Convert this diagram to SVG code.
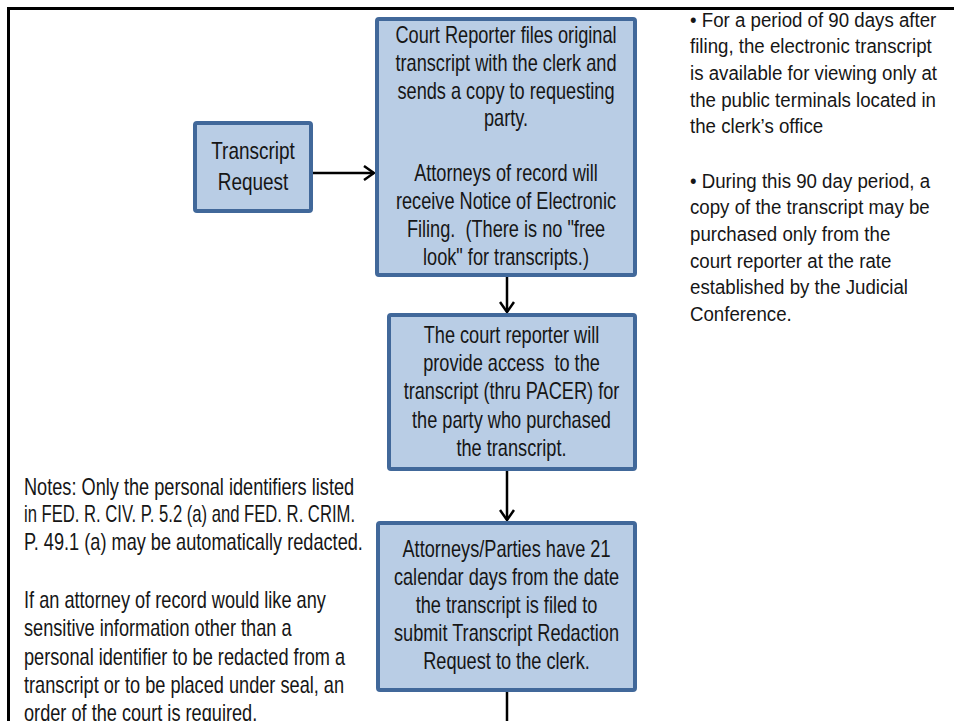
<svg xmlns="http://www.w3.org/2000/svg" width="954" height="721" viewBox="0 0 954 721">
<defs>
<style>
.box{fill:#b9cde5;stroke:#41689a;stroke-width:4}
.t{font-family:"Liberation Sans",Arial,sans-serif;font-size:23px;fill:#161616}
.tr{font-family:"Liberation Sans",Arial,sans-serif;font-size:24px;fill:#161616}
.r{font-family:"Liberation Sans",Arial,sans-serif;font-size:21px;fill:#161616}
.c{text-anchor:middle}
.conn{stroke:#000;stroke-width:2.5;fill:none}
.pre{white-space:pre}
</style>
<marker id="arr" viewBox="0 0 12 16" refX="11" refY="8" markerWidth="12" markerHeight="16" markerUnits="userSpaceOnUse" orient="auto">
<path d="M1,1 L11,8 L1,15" fill="none" stroke="#000" stroke-width="2.5"/>
</marker>
</defs>
<rect width="954" height="721" fill="#fff"/>
<rect x="8.5" y="8.5" width="980" height="760" fill="none" stroke="#000" stroke-width="3"/>

<g id="connectors">
<line class="conn" x1="313" y1="173" x2="374" y2="173" marker-end="url(#arr)"/>
<line class="conn" x1="507" y1="277" x2="507" y2="312" marker-end="url(#arr)"/>
<line class="conn" x1="507" y1="471" x2="507" y2="520" marker-end="url(#arr)"/>
<line class="conn" x1="507" y1="692" x2="507" y2="735" marker-end="url(#arr)"/>
</g>

<g id="node-request">
<rect class="box" x="195" y="123" width="116" height="88" rx="2"/>
<g transform="translate(253,0) scale(0.79,1)">
<text class="tr c" x="0" y="159">Transcript</text>
<text class="tr c" x="0" y="190">Request</text>
</g>
</g>

<g id="node-files">
<rect class="box" x="377" y="19" width="258" height="256" rx="2"/>
<g transform="translate(506,0) scale(0.79,1)">
<text class="t c" x="0" y="43">Court Reporter files original</text>
<text class="t c" x="0" y="71">transcript with the clerk and</text>
<text class="t c" x="0" y="99">sends a copy to requesting</text>
<text class="t c" x="0" y="126">party.</text>
<text class="t c" x="0" y="181">Attorneys of record will</text>
<text class="t c" x="0" y="209">receive Notice of Electronic</text>
<text class="t c pre" x="0" y="237">Filing.  (There is no "free</text>
<text class="t c" x="0" y="265">look" for transcripts.)</text>
</g>
</g>

<g id="node-access">
<rect class="box" x="389" y="315" width="246" height="154" rx="2"/>
<g transform="translate(511.5,0) scale(0.79,1)">
<text class="t c" x="0" y="343">The court reporter will</text>
<text class="t c pre" x="0" y="371">provide access  to the</text>
<text class="t c" x="0" y="399.5">transcript (thru PACER) for</text>
<text class="t c" x="0" y="428">the party who purchased</text>
<text class="t c" x="0" y="456">the transcript.</text>
</g>
</g>

<g id="node-redaction">
<rect class="box" x="378" y="523" width="257" height="167" rx="2"/>
<g transform="translate(506.5,0) scale(0.79,1)">
<text class="t c" x="0" y="557">Attorneys/Parties have 21</text>
<text class="t c" x="0" y="585">calendar days from the date</text>
<text class="t c" x="0" y="613">the transcript is filed to</text>
<text class="t c" x="0" y="641">submit Transcript Redaction</text>
<text class="t c" x="0" y="669">Request to the clerk.</text>
</g>
</g>

<g id="note-right">
<g transform="translate(690,0) scale(0.89,1)">
<text class="r" x="0" y="27">• For a period of 90 days after</text>
<text class="r" x="0" y="53.5">filing, the electronic transcript</text>
<text class="r" x="0" y="80">is available for viewing only at</text>
<text class="r" x="0" y="107">the public terminals located in</text>
<text class="r" x="0" y="133.5">the clerk’s office</text>
<text class="r" x="0" y="188">• During this 90 day period, a</text>
<text class="r" x="0" y="214.5">copy of the transcript may be</text>
<text class="r" x="0" y="241">purchased only from the</text>
<text class="r" x="0" y="268">court reporter at the rate</text>
<text class="r" x="0" y="294.5">established by the Judicial</text>
<text class="r" x="0" y="321">Conference.</text>
</g>
</g>

<g id="note-left">
<g transform="translate(24,0) scale(0.79,1)">
<text class="t" x="0" y="495">Notes: Only the personal identifiers listed</text>
<text class="t" x="0" y="522.5" textLength="419" lengthAdjust="spacingAndGlyphs">in FED. R. CIV. P. 5.2 (a) and FED. R. CRIM.</text>
<text class="t" x="0" y="550">P. 49.1 (a) may be automatically redacted.</text>
<text class="t" x="0" y="608">If an attorney of record would like any</text>
<text class="t" x="0" y="636.5">sensitive information other than a</text>
<text class="t" x="0" y="665">personal identifier to be redacted from a</text>
<text class="t" x="0" y="693">transcript or to be placed under seal, an</text>
<text class="t" x="0" y="721">order of the court is required.</text>
</g>
</g>
</svg>
